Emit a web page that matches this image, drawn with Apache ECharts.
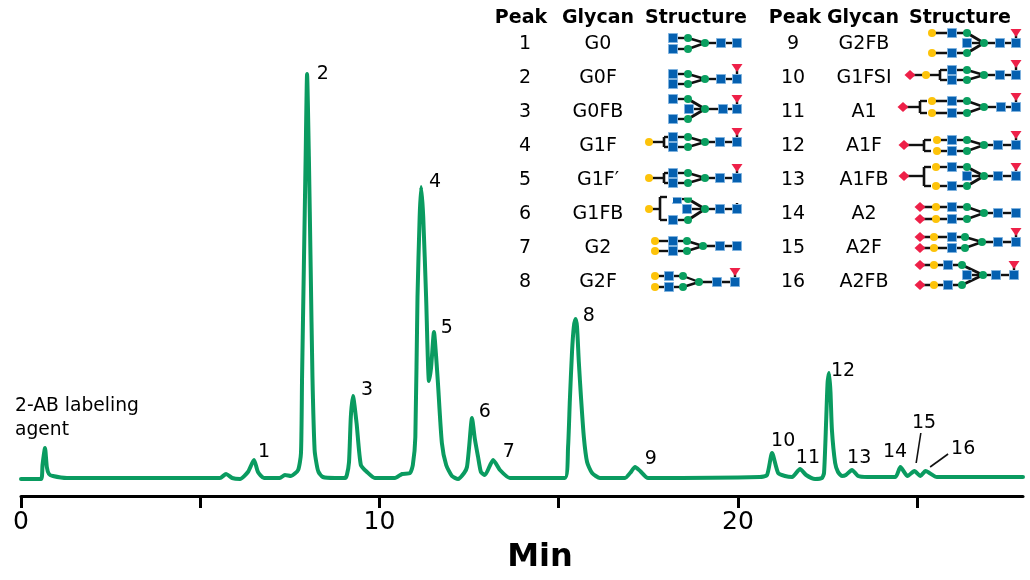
<!DOCTYPE html>
<html><head><meta charset="utf-8">
<style>html,body{margin:0;padding:0;background:#fff}#c{width:1030px;height:580px}</style>
<script src="https://cdn.jsdelivr.net/npm/echarts@6/dist/echarts.min.js"></script>
</head><body><div id="c"></div>
<script>
// Chromatogram trace
const times = [0,0.56,0.60,0.67,0.72,0.78,0.89,1.28,5.55,5.72,5.89,6.11,6.33,6.50,6.61,6.78,7.22,7.36,7.53,7.73,7.81,7.84,7.89,7.94,7.98,8.03,8.08,8.13,8.19,8.25,8.30,8.42,8.76,9.04,9.09,9.15,9.20,9.26,9.36,9.48,9.65,9.87,10.43,10.63,10.85,10.93,11.0,11.06,11.12,11.16,11.22,11.30,11.38,11.44,11.52,11.58,11.63,11.74,11.86,12.02,12.19,12.36,12.44,12.50,12.58,12.66,12.75,12.83,12.94,13.17,13.36,13.64,15.17,15.26,15.31,15.37,15.42,15.47,15.51,15.56,15.62,15.70,15.79,15.93,16.15,16.85,16.99,17.13,17.27,17.49,20.61,20.81,20.95,21.12,21.31,21.51,21.73,21.90,22.15,22.34,22.40,22.46,22.50,22.54,22.58,22.62,22.71,22.79,22.90,23.01,23.18,23.35,23.61,24.39,24.53,24.73,24.92,25.09,25.23,25.55,27.95];
const signal = [-2,-2,12,29,10,3,1,-1,-1,3,-1,-2,5,17,5,-1,-1,2,1,7,24,100,210,320,403,320,210,100,27,12,5,0,-1,-1,2,15,60,81,54,12,5,-1,-1,3,4,12,40,180,260,290,260,180,96,110,145,120,94,34,12,1,-2,4,10,30,59,38,20,5,2,17,7,-1,-1,30,77,125,150,158,150,115,80,40,15,4,-1,-1,4,10,6,-1,0,2,24,4,1,0,8,2,-2,-1,4,57,95,104,85,47,14,5,1,2,7,1,0,0,10,1,6,1,6,0,0];
const peakIds = ['1','2','3','4','5','6','7','8','9','10','11','12','13','14','15','16'];
const peakLabelTime = [6.78,8.42,9.65,11.55,11.88,12.94,13.61,15.84,17.57,21.26,21.95,22.93,23.38,24.38,25.19,26.28];
const peakLabelHeight = [25,403,87,295,149,65,25,161,18,36,19,106,19,25,54,28];
const leader15 = [[25.10,44],[24.97,14]];
const leader16 = [[25.86,23],[25.36,10]];
const tickLabels = {0:'0',10:'10',20:'20'};
// Table
const headers = ['Peak','Glycan','Structure'];
const glycansLeft = ['G0','G0F','G0FB','G1F',"G1F′",'G1FB','G2','G2F'];
const glycansRight = ['G2FB','G1FSI','A1','A1F','A1FB','A2','A2F','A2FB'];

const C = {blue:'#0560b0',edge:'#7fb2de',green:'#0a9f60',yel:'#fdc30a',red:'#ee2048',line:'#111'};
const FONT = '"DejaVu Sans", Verdana, sans-serif';
const gfx = [];
const txt = (s,x,y,size,bold,align) => gfx.push({type:'text',silent:true,x,y,z:10,style:{text:s,font:(bold?'bold ':'')+size+'px '+FONT,fill:'#000',align:align||'center',verticalAlign:'middle'}});
const ln = (x1,y1,x2,y2,w) => gfx.push({type:'line',silent:true,z:1,shape:{x1,y1,x2,y2},style:{stroke:C.line,lineWidth:w||2.4}});
const sq = (x,y) => gfx.push({type:'rect',silent:true,z:2,shape:{x:x-4.5,y:y-4.5,width:9,height:9},style:{fill:C.blue,stroke:C.edge,lineWidth:1}});
const ci = (x,y,c) => gfx.push({type:'circle',silent:true,z:2,shape:{cx:x,cy:y,r:4},style:{fill:c}});
const di = (x,y) => gfx.push({type:'polygon',silent:true,z:2,shape:{points:[[x-5.5,y],[x,y-5],[x+5.5,y],[x,y+5]]},style:{fill:C.red}});
const tri = (x,y) => gfx.push({type:'polygon',silent:true,z:2,shape:{points:[[x-5.5,y-4],[x+5.5,y-4],[x,y+4]]},style:{fill:C.red}});

function glyph(s){
  const y=s.y;
  ln(s.c,y,s.e,y); 
  (s.arms||[]).forEach(a=>{
    const xs=[a.sia,a.gal,a.sq,a.gn].filter(v=>v!==undefined);
    ln(Math.min(...xs),a.y,a.gn,a.y);
    ln(a.gn,a.y,s.c,y,s.bis?3:2.4);
    if(a.sia!==undefined) di(a.sia,a.y);
    if(a.gal!==undefined) ci(a.gal,a.y,C.yel);
    if(a.sq!==undefined) sq(a.sq,a.y);
    ci(a.gn,a.y,C.green);
  });
  if(s.bis) {ln(s.bis,y,s.c,y);sq(s.bis,y);}
  ci(s.c,y,C.green); sq(s.s,y); sq(s.e,y);
  if(s.fuc){ln(s.e,y,s.e,s.fuc); tri(s.e,s.fuc);}
  if(s.br){
    const b=s.br;
    ln(b.from,y,b.x,y); ln(b.x,b.y0,b.x,b.y1,2.6);
    ln(b.x,b.y0,b.x+7,b.y0); ln(b.x,b.y1,b.x+7,b.y1);
    if(b.sia!==undefined) di(b.sia,y);
    if(b.gal!==undefined) ci(b.gal,y,C.yel);
  }
}
const arm=(y,sq,gn,gal,sia)=>({y,sq,gn,gal,sia});
[
 {y:43,c:705,s:721,e:737,arms:[arm(38,673,688),arm(49,673,688)]},
 {y:79,c:705,s:721,e:737,fuc:68,arms:[arm(74,673,688),arm(84,673,688)]},
 {y:109,c:705,s:723,e:737,fuc:99,bis:689,arms:[arm(99,673,688),arm(119,673,688)]},
 {y:142,c:705,s:720,e:737,fuc:132,arms:[arm(137,673,688),arm(147,673,688)],br:{x:664,from:649,y0:137,y1:147,gal:649}},
 {y:178,c:705,s:720,e:737,fuc:168,arms:[arm(173,673,688),arm(183,673,688)],br:{x:664,from:649,y0:173,y1:183,gal:649}},
 {y:209,c:705,s:720,e:737,fuc:199,bis:687,arms:[arm(199,677,688),arm(220,673,688)],br:{x:660,from:649,y0:197,y1:220,gal:649}},
 {y:246,c:703,s:720,e:737,arms:[arm(241,673,687,655),arm(251,673,687,655)]},
 {y:282,c:699,s:717,e:735,fuc:272,arms:[arm(276,669,683,655),arm(287,669,683,655)]},
 {y:43,c:984,s:1000,e:1016,fuc:33,bis:967,arms:[arm(33,952,967,932),arm(53,952,967,932)]},
 {y:75,c:984,s:1000,e:1016,fuc:64,arms:[arm(70,952,967),arm(80,952,967)],br:{x:940,from:910,y0:70,y1:80,gal:926,sia:910}},
 {y:107,c:984,s:1001,e:1016,fuc:97,arms:[arm(101,952,967,932),arm(113,952,967,932)],br:{x:920,from:903,y0:101,y1:113,sia:903}},
 {y:145,c:984,s:998,e:1016,fuc:135,arms:[arm(140,952,967,937),arm(151,952,967,937)],br:{x:924,from:904,y0:140,y1:151,sia:904}},
 {y:176,c:984,s:998,e:1016,fuc:167,bis:967,arms:[arm(167,952,967,936),arm(186,952,967,936)],br:{x:924,from:904,y0:167,y1:186,sia:904}},
 {y:213,c:984,s:998,e:1016,arms:[arm(207,952,967,936,920),arm(219,952,967,936,920)]},
 {y:242,c:982,s:998,e:1016,fuc:232,arms:[arm(237,952,965,934,920),arm(248,952,965,934,920)]},
 {y:275,c:983,s:996,e:1014,fuc:265,bis:967,arms:[arm(265,948,962,934,920),arm(285,948,962,934,920)]}
].forEach(glyph);
// the reference's row 6 glyph is partly masked by white
gfx.push({type:'rect',silent:true,z:3,shape:{x:668,y:190,width:28,height:7.5},style:{fill:'#fff'}});
gfx.push({type:'rect',silent:true,z:3,shape:{x:668,y:197.5,width:5,height:5},style:{fill:'#fff'}});
gfx.push({type:'rect',silent:true,z:3,shape:{x:728,y:192,width:16,height:11},style:{fill:'#fff'}});

const rowY = i => 44 + i*34;
[[521,598,696],[795,863,960]].forEach(col=>headers.forEach((h,i)=>txt(h,col[i],18,19,true)));
peakIds.forEach((p,i)=>{
  const left=i<8, r=left?i:i-8;
  txt(p,left?525:793,rowY(r),19);
  txt((left?glycansLeft:glycansRight)[r],left?598:864,rowY(r),19);
});
txt('2-AB labeling',15,406,18.7,false,'left');
txt('agent',15,430,18.7,false,'left');

const chart = echarts.init(document.getElementById('c'),null,{renderer:'canvas'});
chart.setOption({
  animation:false,
  backgroundColor:'#fff',
  grid:{left:21,right:7,top:0,bottom:84,outerBoundsMode:'none'},
  xAxis:{type:'value',min:0,max:27.95,interval:5,splitLine:{show:false},
    axisLine:{onZero:false,lineStyle:{color:'#000',width:3}},
    axisTick:{length:12,lineStyle:{color:'#000',width:3}},
    axisLabel:{fontFamily:FONT,fontSize:25,color:'#000',margin:14,showMaxLabel:false,formatter:v=>tickLabels[v]||''},
    name:'Min',nameLocation:'middle',nameGap:46,
    nameTextStyle:{fontFamily:FONT,fontSize:32,fontWeight:'bold',color:'#000',padding:[0,0,0,36]}},
  yAxis:{type:'value',min:-19,max:477,show:false,splitLine:{show:false}},
  graphic:gfx,
  series:[
    {type:'line',data:times.map((t,i)=>[t,signal[i]]),showSymbol:false,smooth:0.2,
     lineStyle:{color:'#0a9b60',width:4,join:'round',cap:'round'},silent:true,z:3},
    {type:'scatter',symbolSize:0,silent:true,itemStyle:{opacity:1},data:peakIds.map((p,i)=>({name:p,value:[peakLabelTime[i],peakLabelHeight[i]]})),
     label:{show:true,position:'inside',formatter:'{b}',fontFamily:FONT,fontSize:19,color:'#000',opacity:1},z:5},
    {type:'line',data:leader15,showSymbol:false,lineStyle:{color:'#111',width:1.6},silent:true},
    {type:'line',data:leader16,showSymbol:false,lineStyle:{color:'#111',width:1.6},silent:true}
  ]
});
</script></body></html>
